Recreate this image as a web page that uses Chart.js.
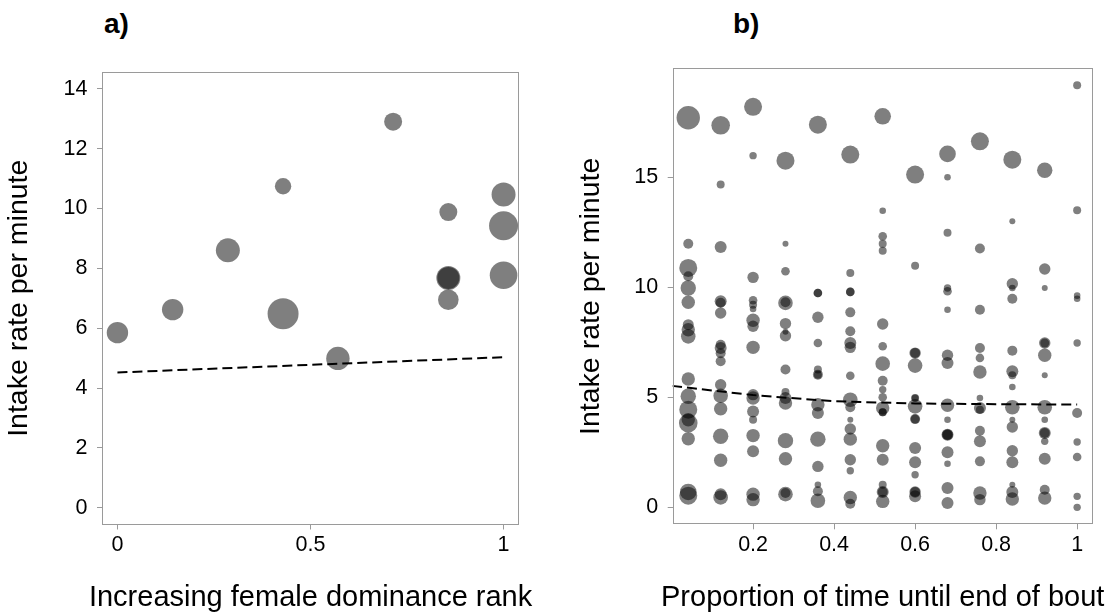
<!DOCTYPE html>
<html>
<head>
<meta charset="utf-8">
<title>Intake rate</title>
<script src="https://cdn.jsdelivr.net/npm/chart.js@4.4.1/dist/chart.umd.min.js"></script>
<style>
  body { margin: 0; background: #fff; width: 1113px; height: 613px; overflow: hidden; position: relative; }
  canvas { position: absolute; top: 0; }
  #graficoA { left: 0; }
  #graficoB { left: 556px; }
  .letra { position: absolute; top: 10px; font-family: 'Liberation Sans', Arial, sans-serif; font-weight: bold; font-size: 28px; line-height: 1; color: #000; }
  .tituloX { position: absolute; top: 582px; width: 600px; text-align: center; font-family: 'Liberation Sans', Arial, sans-serif; font-size: 29px; line-height: 1; color: #000; white-space: nowrap; }
</style>
</head>
<body>
<div class="letra" style="left:104px">a)</div>
<div class="letra" style="left:733px">b)</div>
<canvas id="graficoA" width="556" height="613"></canvas>
<canvas id="graficoB" width="557" height="613"></canvas>
<div class="tituloX" style="left:10.6px">Increasing female dominance rank</div>
<div class="tituloX" style="left:582.7px">Proportion of time until end of bout</div>
<script>
// cores e fonte
var corPonto = 'rgba(0, 0, 0, 0.5)';
var corMoldura = '#9a9a9a';
var fonte = "'Liberation Sans', Arial, sans-serif";

// ---- painel a) rank de dominancia ----
var rankA = [0, 0.143, 0.286, 0.429, 0.429, 0.571, 0.714, 0.857, 0.857, 0.857, 0.857, 1, 1, 1];
var intakeA = [5.85, 6.62, 8.6, 10.74, 6.48, 4.99, 12.9, 9.88, 7.68, 7.68, 6.95, 10.47, 9.42, 7.77];
// tamanho relativo de cada bolinha (peso da observacao)
var pesoA = [10.7, 10.7, 12, 8.2, 15.5, 11.7, 9, 9, 12, 11, 10.3, 12, 14.5, 13.8];
var linhaRankA = [0, 1];
var linhaIntakeA = [4.52, 5.03];
var ticksXA = [0, 0.5, 1];
var ticksYA = [0, 2, 4, 6, 8, 10, 12, 14];

// ---- painel b) proporcao do tempo ate o fim do bout ----
var proporcaoB = [0.04, 0.12, 0.2, 0.28, 0.36, 0.44, 0.52, 0.6, 0.68, 0.76, 0.84, 0.92, 1];
var intakeB = [
  [17.7, 11.98, 10.88, 10.5, 9.97, 9.32, 8.3, 8.07, 7.77, 5.83, 5.05, 4.44, 3.98, 3.83, 3.12, 0.7, 0.53],
  [17.36, 14.67, 11.83, 9.36, 9.3, 8.83, 7.39, 7.24, 7.0, 6.64, 5.57, 5.07, 4.48, 3.23, 2.14, 0.6, 0.45],
  [18.2, 15.98, 10.45, 9.41, 9.21, 9.01, 8.5, 8.23, 7.27, 5.12, 4.97, 4.36, 3.98, 3.26, 2.55, 0.6, 0.35],
  [15.75, 11.98, 10.73, 9.32, 9.29, 8.35, 7.98, 7.8, 6.26, 5.24, 4.97, 4.74, 3.03, 2.21, 0.65, 0.6],
  [17.39, 9.74, 9.74, 8.64, 7.47, 6.26, 6.03, 6.03, 4.66, 4.29, 3.1, 1.86, 1.03, 0.73, 0.3],
  [16.03, 10.65, 9.79, 9.79, 8.86, 8.0, 7.47, 7.27, 5.98, 4.89, 4.55, 3.98, 3.56, 3.1, 2.16, 1.66, 0.45, 0.16],
  [17.77, 13.48, 12.32, 11.98, 11.66, 8.33, 7.32, 6.53, 5.75, 5.35, 5.0, 4.51, 4.32, 4.32, 2.8, 2.16, 1.03, 0.7, 0.7, 0.27],
  [15.12, 10.98, 7.01, 7.01, 6.44, 4.97, 4.97, 4.59, 4.01, 4.01, 2.7, 2.05, 1.48, 0.7, 0.7, 0.5],
  [16.06, 15.0, 12.48, 9.97, 9.82, 8.98, 6.91, 6.56, 4.64, 3.98, 3.3, 3.3, 3.3, 2.5, 1.98, 0.88, 0.2],
  [16.63, 11.76, 8.98, 7.24, 6.79, 6.15, 4.97, 4.51, 4.44, 3.48, 3.0, 2.09, 0.65, 0.35],
  [15.8, 13.0, 10.16, 9.97, 9.48, 7.12, 6.18, 6.0, 5.47, 4.55, 3.98, 3.65, 2.57, 2.05, 1.03, 0.7, 0.38],
  [15.32, 10.83, 9.97, 7.47, 7.47, 6.91, 6.0, 4.55, 3.98, 3.38, 3.38, 3.0, 2.21, 0.8, 0.42],
  [19.18, 13.5, 9.62, 9.48, 7.47, 4.29, 2.97, 2.29, 0.5, 0.0]
];
var pesoB = [
  [11.7, 5, 9, 5, 7.7, 6.7, 5.5, 6.7, 7.3, 6.7, 7.7, 9, 6.7, 9.3, 6.7, 8.3, 9],
  [9.3, 4, 6, 6, 5, 5.7, 5, 6, 5, 5, 5.7, 7.3, 6.7, 7.7, 6.7, 6, 7.3],
  [9, 3.7, 5.7, 4.3, 4, 3.3, 6.7, 5.7, 6.7, 5.7, 6.7, 6, 4, 6.7, 6, 6.7, 6.7],
  [9, 3, 4.3, 5, 7.3, 5.7, 3, 5.7, 5, 4, 6, 6.7, 7.7, 6.7, 5, 7.3],
  [9, 4.3, 4.3, 5.7, 4.3, 4, 5, 4, 6.7, 6, 7.7, 5.7, 3.3, 5, 7.3],
  [9, 4, 4.3, 4.3, 5, 5, 6, 5.7, 4.3, 7.3, 5, 3, 5.7, 6.7, 5.7, 3.7, 6.7, 5],
  [8.3, 3.3, 4.3, 4, 4, 5.7, 4.3, 7.3, 5, 3.7, 4.3, 6.7, 4, 4, 6.7, 6, 4, 6, 5, 6.7],
  [9, 4, 5.7, 5, 7.3, 4, 3.5, 7.3, 5, 4.5, 6, 6, 3.7, 5.7, 5, 6],
  [8.3, 3.3, 4, 3.7, 4.3, 3.3, 5.7, 6, 6.7, 3.3, 6, 5.5, 5, 6, 3.3, 6, 6],
  [9, 5, 5, 5, 4.3, 6.7, 3.3, 6, 4, 5, 6, 5, 6.7, 5.7],
  [9, 3, 5.7, 3.3, 5, 5, 6, 4, 3.3, 7.3, 3, 5.7, 5.7, 6, 3, 6, 6.7],
  [7.7, 5.7, 3, 5.7, 4.5, 6.7, 3, 7.3, 3.3, 6, 5, 3.7, 6, 5, 6.7],
  [4, 4, 3.3, 3.3, 3.7, 5, 3.7, 4.3, 3.7, 3.7]
];
var linhaPropB = [0, 0.2, 0.4, 0.6, 0.8, 1];
var linhaIntakeB = [5.52, 5.1, 4.82, 4.72, 4.69, 4.67];
var ticksXB = [0.2, 0.4, 0.6, 0.8, 1];
var ticksYB = [0, 5, 10, 15];

// desenha a caixa em volta da area do grafico (igual o box() do R)
var moldura = {
  id: 'moldura',
  afterDatasetsDraw: function(chart) {
    var a = chart.chartArea;
    var ctx = chart.ctx;
    ctx.save();
    ctx.strokeStyle = corMoldura;
    ctx.lineWidth = 1;
    var x0 = Math.round(a.left) + 0.5, y0 = Math.round(a.top) + 0.5;
    var x1 = Math.round(a.right) - 0.5, y1 = Math.round(a.bottom) - 0.5;
    ctx.strokeRect(x0, y0, x1 - x0, y1 - y0);
    ctx.restore();
  }
};

// junta x e y em pontos
function juntaPontos(xs, ys) {
  var pts = [];
  for (var i = 0; i < xs.length; i++) {
    pts.push({ x: xs[i], y: ys[i] });
  }
  return pts;
}

// opcoes de um eixo (so os ticks que eu quero)
function montaEixo(cfg) {
  var eixo = {
    type: 'linear',
    min: cfg.min,
    max: cfg.max,
    afterBuildTicks: function(e) {
      e.ticks = cfg.ticks.map(function(v) { return { value: v }; });
    },
    afterFit: function(e) {
      if (cfg.largura) e.width = cfg.largura;
      if (cfg.altura) e.height = cfg.altura;
    },
    grid: { display: true, drawOnChartArea: false, drawTicks: true, tickLength: 5, color: corMoldura, lineWidth: 1 },
    border: { display: false },
    ticks: {
      color: '#000',
      font: { family: fonte, size: 21.5 },
      padding: cfg.paddingTick,
      autoSkip: false,
      maxRotation: 0,
      callback: function(v) { return String(v); }
    },
    title: { display: false }
  };
  // titulo do y fica no chart.js, o do x vai no html (e mais largo que o grafico)
  if (cfg.titulo) {
    eixo.title = {
      display: true,
      text: cfg.titulo,
      color: '#000',
      font: { family: fonte, size: 28.5, lineHeight: 1 },
      padding: cfg.paddingTitulo
    };
  }
  return eixo;
}

// cria um painel
function criaPainel(id, c) {
  var raios = c.pesos.map(function(p) { return p; });
  return new Chart(document.getElementById(id), {
    type: 'scatter',
    data: {
      datasets: [
        {
          type: 'line',
          data: juntaPontos(c.linhaX, c.linhaY),
          showLine: true,
          borderColor: '#000',
          borderWidth: 2,
          borderDash: [10, 5],
          pointRadius: 0,
          fill: false,
          tension: 0,
          order: 0
        },
        {
          data: juntaPontos(c.xs, c.ys),
          pointRadius: raios,
          pointHoverRadius: raios,
          pointBackgroundColor: corPonto,
          pointBorderWidth: 0,
          pointBorderColor: 'rgba(0,0,0,0)',
          order: 1
        }
      ]
    },
    options: {
      responsive: false,
      animation: false,
      events: [],
      layout: { padding: { left: 0, right: c.direita, top: c.topo, bottom: 0 } },
      plugins: { legend: { display: false }, tooltip: { enabled: false } },
      scales: {
        x: montaEixo({ min: c.xMin, max: c.xMax, ticks: c.ticksX, altura: c.alturaX, paddingTick: 3 }),
        y: montaEixo({ min: c.yMin, max: c.yMax, ticks: c.ticksY, largura: c.larguraY, paddingTick: 9.5,
          titulo: 'Intake rate per minute', paddingTitulo: { top: c.padTituloY, bottom: 0 } })
      }
    },
    plugins: [moldura]
  });
}

// achata o painel b (uma coluna por proporcao)
var xsB = [], ysB = [], pesosB = [];
for (var i = 0; i < proporcaoB.length; i++) {
  for (var j = 0; j < intakeB[i].length; j++) {
    xsB.push(proporcaoB[i]);
    ysB.push(intakeB[i][j]);
    pesosB.push(pesoB[i][j]);
  }
}

criaPainel('graficoA', {
  xs: rankA, ys: intakeA, pesos: pesoA,
  linhaX: linhaRankA, linhaY: linhaIntakeA,
  ticksX: ticksXA, ticksY: ticksYA,
  xMin: -0.04, xMax: 1.04, yMin: -0.56, yMax: 14.56,
  direita: 37, topo: 72, larguraY: 102, alturaX: 88.5, padTituloY: 4.5
});

criaPainel('graficoB', {
  xs: xsB, ys: ysB, pesos: pesosB,
  linhaX: linhaPropB, linhaY: linhaIntakeB,
  ticksX: ticksXB, ticksY: ticksYB,
  xMin: 0.0016, xMax: 1.0384, yMin: -0.77, yMax: 19.95,
  direita: 20.3, topo: 68.3, larguraY: 116.7, alturaX: 88.7, padTituloY: 20.5
});
</script>
</body>
</html>
